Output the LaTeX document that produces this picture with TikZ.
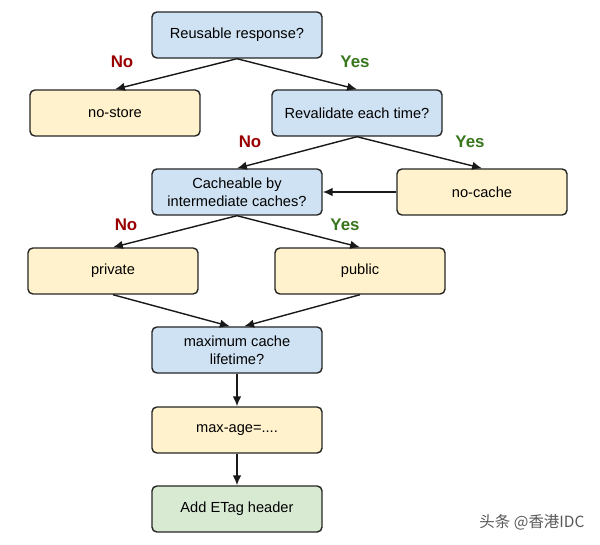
\documentclass[tikz,border=0pt]{standalone}
\usepackage{fontspec}
\setmainfont{Liberation Sans}
\newfontfamily\cjkfont{Noto Sans CJK SC}
\usetikzlibrary{arrows.meta}

\definecolor{askblue}{HTML}{CFE2F3}
\definecolor{doyellow}{HTML}{FFF2CC}
\definecolor{endgreen}{HTML}{D9EAD3}
\definecolor{nored}{HTML}{990000}
\definecolor{yesgreen}{HTML}{38761D}

\begin{document}
\begin{tikzpicture}[x=0.025cm, y=-0.025cm,
	box/.style={draw=black!85, line width=1pt, rounded corners=3.5pt, minimum width=4.25cm, minimum height=1.15cm, align=center, font=\fontsize{10.4}{12.5}\selectfont},
	askbox/.style={box, fill=askblue},
	dobox/.style={box, fill=doyellow},
	endbox/.style={box, fill=endgreen},
	nolabel/.style={text=nored, font=\fontsize{12}{14}\selectfont\bfseries},
	yeslabel/.style={text=yesgreen, font=\fontsize{12}{14}\selectfont\bfseries},
	flow/.style={-{Latex[length=7pt,width=6pt]}, line width=1pt, black!90}]
	\useasboundingbox (0,0) rectangle (600,545);

	%Questions
	\node[askbox] (reuse) at (237,35) {Reusable response?};
	\node[askbox] (revalidate) at (357,113) {Revalidate each time?};
	\node[askbox] (cacheable) at (237,192) {Cacheable by\\intermediate caches?};
	\node[askbox] (lifetime) at (237,350) {maximum cache\\lifetime?};

	%Directives
	\node[dobox] (nostore) at (115,113) {no-store};
	\node[dobox] (nocache) at (482,192) {no-cache};
	\node[dobox] (private) at (113,271) {private};
	\node[dobox] (public) at (360,271) {public};
	\node[dobox] (maxage) at (237,430) {max-age=....};

	%Last step
	\node[endbox] (etag) at (237,509) {Add ETag header};

	%Arrows
	\draw[flow] (reuse.south) -- (nostore.north);
	\draw[flow] (reuse.south) -- (revalidate.north);
	\draw[flow] (revalidate.south) -- (cacheable.north);
	\draw[flow] (revalidate.south) -- (nocache.north);
	\draw[flow] (nocache.west) -- (cacheable.east);
	\draw[flow] (cacheable.south) -- (private.north);
	\draw[flow] (cacheable.south) -- (public.north);
	\draw[flow] (private.south) -- ([xshift=-0.18cm]lifetime.north);
	\draw[flow] (public.south) -- ([xshift=0.18cm]lifetime.north);
	\draw[flow] (lifetime.south) -- (maxage.north);
	\draw[flow] (maxage.south) -- (etag.north);

	%Answers
	\node[nolabel] (no1) at (122,62) {No};
	\node[yeslabel] (yes1) at (355,62) {Yes};
	\node[nolabel] (no2) at (250,142) {No};
	\node[yeslabel] (yes2) at (470,142) {Yes};
	\node[nolabel] (no3) at (126,225) {No};
	\node[yeslabel] (yes3) at (345,225) {Yes};

	%Watermark
	\node[text=black!65, font=\fontsize{11}{13}\selectfont] (mark) at (532,522) {\cjkfont 头条 @香港IDC};

\end{tikzpicture}
\end{document}
